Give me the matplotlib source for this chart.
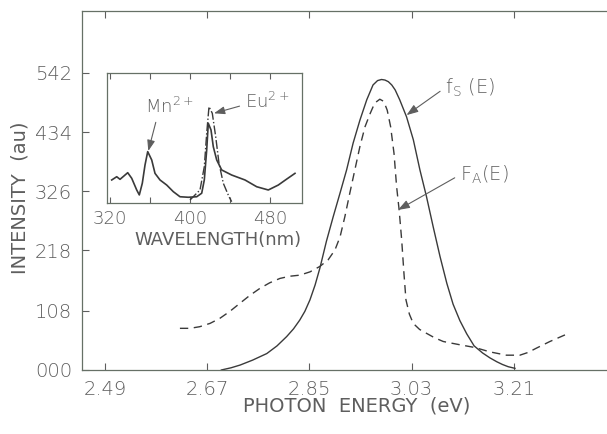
import matplotlib
matplotlib.use('Agg')
import matplotlib.pyplot as plt

# ---- datos ----
# f_S(E), linea llena
E_fs = [2.695, 2.712, 2.728, 2.750, 2.775, 2.793, 2.810, 2.822, 2.833, 2.842,
        2.851, 2.860, 2.8685, 2.880, 2.892, 2.904, 2.9155, 2.927, 2.939, 2.951,
        2.962, 2.970, 2.977, 2.983, 2.989, 2.995, 3.001, 3.009, 3.021, 3.033,
        3.0446, 3.056, 3.068, 3.080, 3.092, 3.103, 3.115, 3.127, 3.140, 3.155,
        3.168, 3.180, 3.190, 3.200, 3.212]
fs = [0.00, 0.04, 0.09, 0.18, 0.30, 0.44, 0.61, 0.75, 0.91, 1.07,
      1.28, 1.55, 1.86, 2.35, 2.80, 3.23, 3.65, 4.14, 4.56, 4.93,
      5.20, 5.28, 5.30, 5.29, 5.26, 5.20, 5.11, 4.93, 4.62, 4.20,
      3.65, 3.17, 2.61, 2.07, 1.58, 1.20, 0.90, 0.66, 0.44, 0.31,
      0.22, 0.15, 0.10, 0.06, 0.03]

# F_A(E), linea de trazos
E_fa = [2.622, 2.640, 2.657, 2.675, 2.692, 2.710, 2.728, 2.745, 2.763, 2.780,
        2.798, 2.815, 2.833, 2.851, 2.8685, 2.883, 2.895, 2.904, 2.9125, 2.921,
        2.930, 2.939, 2.948, 2.957, 2.965, 2.974, 2.981, 2.987, 2.993, 2.999,
        3.0035, 3.008, 3.0125, 3.0165, 3.020, 3.026, 3.0328, 3.044, 3.056, 3.070,
        3.0856, 3.100, 3.115, 3.1414, 3.168, 3.197, 3.2206, 3.235, 3.250, 3.2735,
        3.300]
fa = [0.76, 0.76, 0.79, 0.85, 0.94, 1.07, 1.22, 1.36, 1.49, 1.59,
      1.67, 1.71, 1.73, 1.79, 1.89, 2.01, 2.19, 2.43, 2.80, 3.22,
      3.65, 4.08, 4.44, 4.68, 4.87, 4.94, 4.90, 4.74, 4.44, 3.95,
      3.35, 2.92, 2.37, 1.76, 1.28, 1.02, 0.85, 0.74, 0.67, 0.59,
      0.52, 0.49, 0.46, 0.41, 0.33, 0.27, 0.27, 0.32, 0.40, 0.52,
      0.64]

# inset: espectro vs longitud de onda
wl = [321.7, 326.7, 330.0, 333.5, 337.7, 341.7, 346.7, 349.3, 352.3, 355.0,
      357.7, 361.7, 365.0, 370.0, 376.7, 383.3, 390.0, 398.3, 406.7, 411.7,
      414.3, 416.7, 418.3, 421.0, 423.3, 426.7, 431.7, 441.7, 455.0, 466.7,
      478.3, 488.3, 496.0, 505.0]
espectro = [0.177, 0.202, 0.182, 0.205, 0.233, 0.190, 0.100, 0.062, 0.152, 0.292,
            0.395, 0.331, 0.228, 0.177, 0.138, 0.087, 0.048, 0.044, 0.048, 0.075,
            0.177, 0.408, 0.613, 0.562, 0.433, 0.331, 0.254, 0.215, 0.177, 0.125,
            0.100, 0.138, 0.180, 0.228]
wl_eu = [400.0, 410.0, 414.3, 416.7, 419.0, 422.3, 425.7, 429.0, 433.3, 439.0, 441.7]
eu = [0.023, 0.100, 0.279, 0.536, 0.741, 0.690, 0.510, 0.305, 0.152, 0.048, 0.010]

xticks = [2.49, 2.67, 2.85, 3.03, 3.21]
xtick_labels = ['2.49', '2.67', '2.85', '3.03', '3.21']
yticks = [0.0, 1.08, 2.18, 3.26, 4.34, 5.42]
ytick_labels = ['000', '108', '218', '326', '434', '542']
inset_ticks = [320, 360, 400, 440, 480]
inset_labels = ['320', '', '400', '', '480']

gris = '#5e5e5e'
linea = '#3a3a3a'
plt.rcParams['font.family'] = ['DejaVu Sans']
plt.rcParams['font.weight'] = 'light'
plt.rcParams['mathtext.default'] = 'regular'

fig = plt.figure(figsize=(6.07, 4.34), dpi=100)
ax = fig.add_axes([0.135, 0.1475, 0.865, 0.8272])
ax.plot(E_fs, fs, color=linea, lw=1.0)
ax.plot(E_fa, fa, color=linea, lw=1.0, dashes=(6, 4))
ax.set_xlim(2.4495, 3.374)
ax.set_ylim(0, 6.55)
ax.set_xticks(xticks)
ax.set_xticklabels(xtick_labels)
ax.set_yticks(yticks)
ax.set_yticklabels(ytick_labels)
ax.tick_params(direction='in', length=5, width=0.8, color=gris, labelcolor=gris,
               labelsize=14, pad=7, top=True)
for s in ['left', 'top', 'bottom']:
    ax.spines[s].set_color('#667066')
    ax.spines[s].set_linewidth(0.9)
ax.spines['right'].set_visible(False)

ax.set_xlabel('PHOTON  ENERGY  (eV)', fontsize=14, color=gris)
ax.xaxis.set_label_coords(0.524, -0.075)
ax.set_ylabel('INTENSITY  (au)', fontsize=14, color=gris)
ax.yaxis.set_label_coords(-0.099, 0.48)

flecha = dict(arrowstyle='-|>,head_length=0.5,head_width=0.18', color=gris, lw=0.8,
              shrinkA=2, shrinkB=0)
ax.annotate(r'$f_S$ (E)', xy=(3.021, 4.65), xytext=(3.089, 5.15),
            fontsize=14, color=gris, ha='left', va='center',
            arrowprops=dict(flecha, relpos=(0, 0.5)))
ax.annotate(r'$F_A$(E)', xy=(3.006, 2.92), xytext=(3.115, 3.56),
            fontsize=14, color=gris, ha='left', va='center',
            arrowprops=dict(flecha, relpos=(0, 0.5)))

# inset
ins = fig.add_axes([0.1763, 0.5323, 0.3212, 0.2995])
ins.plot(wl, espectro, color=linea, lw=1.2)
ins.plot(wl_eu, eu, color=linea, lw=1.0, linestyle='-.')
ins.set_xlim(317, 512)
ins.set_ylim(0, 1)
ins.set_xticks(inset_ticks)
ins.set_xticklabels(inset_labels)
ins.set_yticks([])
ins.tick_params(direction='in', length=4, width=0.8, color=gris, labelcolor=gris,
                labelsize=13, pad=5, top=True)
for s in ins.spines.values():
    s.set_color('#667066')
    s.set_linewidth(0.9)
ins.set_xlabel('WAVELENGTH(nm)', fontsize=13, color=gris)
ins.xaxis.set_label_coords(0.57, -0.215)
ins.annotate(r'Mn$^{2+}$', xy=(358.3, 0.40), xytext=(355, 0.74),
             fontsize=13, color=gris, ha='left', va='center',
             arrowprops=dict(flecha, relpos=(0.25, 0)))
ins.annotate(r'Eu$^{2+}$', xy=(424, 0.69), xytext=(455, 0.78),
             fontsize=13, color=gris, ha='left', va='center',
             arrowprops=dict(flecha, relpos=(0, 0.35)))

fig.savefig('out.png', dpi=100)
